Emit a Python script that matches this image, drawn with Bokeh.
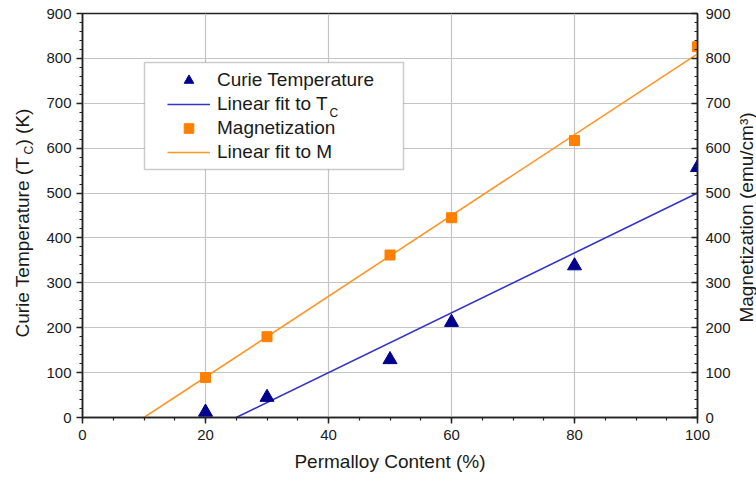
import math

from bokeh.plotting import figure
from bokeh.layouts import row
from bokeh.models import (Range1d, LinearAxis, SingleIntervalTicker, Legend,
                          LegendItem, Label, BoxAnnotation)
from bokeh.embed import file_html
from bokeh.resources import INLINE

# Measured samples
permalloy_pct = [20, 30, 50, 60, 80, 100]
curie_temp_k = [12, 45, 129, 212, 338, 557]
magnetization_emu = [89, 180, 362, 445, 617, 826]

# End points of the two linear fits
tc_fit_x = [25, 100]
tc_fit_y = [0, 500]
m_fit_x = [10, 100]
m_fit_y = [0, 810]

FONT = "Liberation Sans"
TEXT = "#1a1a1a"
AXIS = "#222222"
H = 480
TOP, BOTTOM = 13, 63
LEFT_STRIP = 40
RIGHT_STRIP = 20


def title_strip(width):
    """A bare figure whose frame matches the chart's, holding axis titles.

    Its y range counts pixels up from the bottom edge of the page.
    """
    f = figure(width=width, height=H, output_backend="svg",
               toolbar_location=None, x_range=Range1d(0, width),
               y_range=Range1d(BOTTOM, H - TOP),
               min_border_left=0, min_border_right=0,
               min_border_top=TOP, min_border_bottom=BOTTOM,
               outline_line_color=None, border_fill_color="white",
               background_fill_color="white")
    f.axis.visible = False
    f.grid.visible = False
    return f


# Main chart
p = figure(width=756 - LEFT_STRIP - RIGHT_STRIP, height=H,
           output_backend="svg", toolbar_location=None,
           x_range=Range1d(0, 100), y_range=Range1d(0, 900),
           min_border_left=82 - LEFT_STRIP,
           min_border_right=756 - RIGHT_STRIP - 697,
           min_border_top=TOP, min_border_bottom=BOTTOM,
           background_fill_color="white", border_fill_color="white",
           outline_line_color=AXIS, outline_line_width=1.5)
p.extra_y_ranges = {"mag": Range1d(0, 900)}

x_ticker = SingleIntervalTicker(interval=20, num_minor_ticks=4)
y_ticker = SingleIntervalTicker(interval=100, num_minor_ticks=5)

bottom_axis = p.below[0]
left_axis = p.left[0]
bottom_axis.ticker = x_ticker
left_axis.ticker = y_ticker
p.xgrid.ticker = x_ticker
p.ygrid.ticker = y_ticker
for g in (p.xgrid, p.ygrid):
    g.grid_line_color = "#c4c4c4"
    g.grid_line_width = 1.2

right_axis = LinearAxis(y_range_name="mag", ticker=y_ticker)
p.add_layout(right_axis, "right")


def style_axis(ax, inward):
    ax.axis_line_color = AXIS
    ax.axis_line_width = 1.5
    ax.major_tick_line_color = AXIS
    ax.minor_tick_line_color = AXIS
    ax.major_tick_line_width = 1.5
    ax.minor_tick_line_width = 1.2
    if inward:
        ax.major_tick_in, ax.major_tick_out = 6, 0
        ax.minor_tick_in, ax.minor_tick_out = 3, 0
    else:
        ax.major_tick_in, ax.major_tick_out = 0, 6
        ax.minor_tick_in, ax.minor_tick_out = 0, 3
    ax.major_label_text_font = FONT
    ax.major_label_text_font_size = "15px"
    ax.major_label_text_color = TEXT


style_axis(bottom_axis, False)
style_axis(left_axis, False)
style_axis(right_axis, True)
left_axis.major_label_standoff = 5
bottom_axis.major_label_standoff = 6
right_axis.major_label_standoff = 8

bottom_axis.axis_label = "Permalloy Content (%)"
bottom_axis.axis_label_text_font = FONT
bottom_axis.axis_label_text_font_size = "19px"
bottom_axis.axis_label_text_font_style = "normal"
bottom_axis.axis_label_text_color = TEXT
bottom_axis.axis_label_standoff = 8

# Data and fits
tc_line = p.line(tc_fit_x, tc_fit_y, line_color="#3434c8", line_width=1.6)
m_line = p.line(m_fit_x, m_fit_y, line_color="#ff9526", line_width=1.6,
                y_range_name="mag")
tc_pts = p.scatter(permalloy_pct, curie_temp_k, marker="triangle", size=14,
                   fill_color="#00008f", line_color="#00008f")
m_pts = p.scatter(permalloy_pct, magnetization_emu, marker="square", size=10,
                  fill_color="#ff8000", line_color="#ff8000",
                  y_range_name="mag")

# Legend frame
p.add_layout(BoxAnnotation(left=62, right=321, top=355, bottom=248,
                           left_units="screen", right_units="screen",
                           top_units="screen", bottom_units="screen",
                           fill_color="white", fill_alpha=1.0,
                           line_color="#555555", line_width=1.5))

legend = Legend(items=[
    LegendItem(label="Curie Temperature", renderers=[tc_pts]),
    LegendItem(label="Linear fit to T", renderers=[tc_line]),
    LegendItem(label="Magnetization", renderers=[m_pts]),
    LegendItem(label="Linear fit to M", renderers=[m_line]),
], location=(85, 253), padding=0, margin=0, spacing=0,
    glyph_width=43, glyph_height=24, label_height=24, label_standoff=7,
    label_text_font=FONT, label_text_font_size="19px", label_text_color=TEXT,
    border_line_alpha=0, background_fill_alpha=0)
p.add_layout(legend)

# Subscript "C" after "Linear fit to T"
p.add_layout(Label(x=247, y=305, x_units="screen", y_units="screen", text="C",
                   text_font=FONT, text_font_size="12px", text_color=TEXT,
                   text_align="left", text_baseline="middle"))

# Left axis title, with a subscript, in its own strip
left_strip = title_strip(LEFT_STRIP)
left_parts = [
    ("Curie Temperature (T", H - 337, 22, "19px"),
    ("C", H - 154, 28, "12px"),
    (") (K)", H - 145, 22, "19px"),
]
for txt, y, x, size in left_parts:
    left_strip.add_layout(Label(x=x, y=y, text=txt, angle=math.pi / 2,
                                text_font=FONT, text_font_size=size,
                                text_color=TEXT, text_align="left",
                                text_baseline="middle"))

# Right axis title
right_strip = title_strip(RIGHT_STRIP)
right_strip.add_layout(Label(x=10, y=H - 217,
                             text="Magnetization (emu/cm³)",
                             angle=math.pi / 2, text_font=FONT,
                             text_font_size="19px", text_color=TEXT,
                             text_align="center", text_baseline="middle"))

layout = row(left_strip, p, right_strip)
open("out.html", "w").write(file_html(layout, INLINE))
